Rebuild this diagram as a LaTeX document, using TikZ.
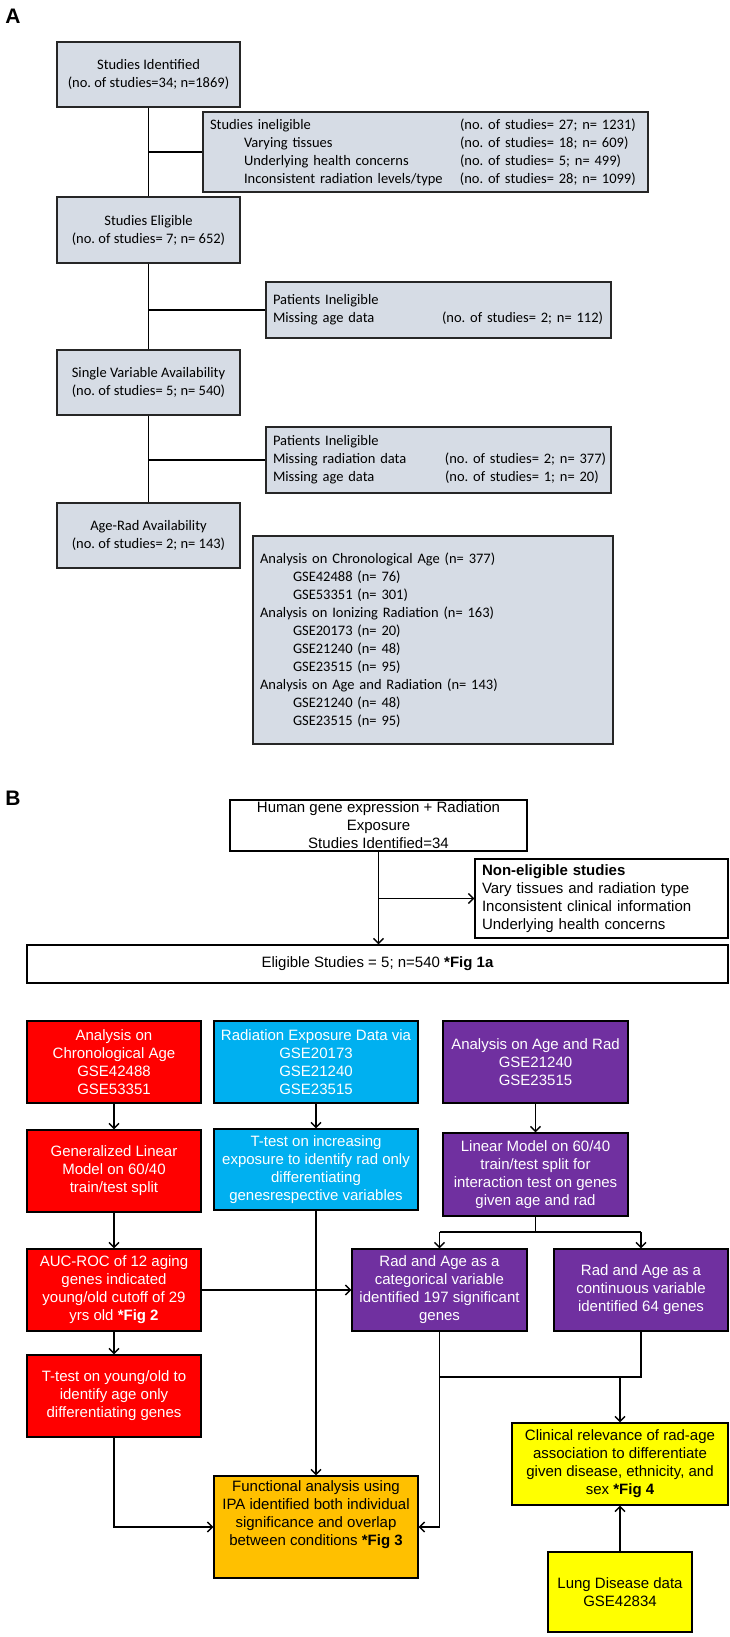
\documentclass[tikz,border=0pt]{standalone}
\usepackage{fontspec}
\setmainfont{Liberation Sans}
\newfontfamily\calib{Carlito}
\usetikzlibrary{arrows.meta}
\definecolor{agray}{RGB}{214,220,229}
\definecolor{bred}{RGB}{255,0,0}
\definecolor{bcyan}{RGB}{0,176,240}
\definecolor{bpurple}{RGB}{112,48,160}
\definecolor{borange}{RGB}{255,192,0}
\definecolor{byellow}{RGB}{255,255,0}
\frenchspacing
\begin{document}
\begin{tikzpicture}[x=1pt,y=-1pt,
  abox/.style={draw=black!85, line width=1.6pt, fill=agray, inner sep=0pt, font=\calib\fontsize{14.5}{18}\selectfont, align=center},
  aleft/.style={abox, align=left, inner xsep=7pt},
  bbox/.style={draw=black, line width=1.4pt, inner sep=0pt, font=\fontsize{15}{18}\selectfont, align=center},
  bleft/.style={bbox, align=left, inner xsep=7pt},
  wtext/.style={text=white},
  conn/.style={line width=1.3pt},
  arr/.style={conn, -{Straight Barb[length=5pt,width=10pt]}},
  panel/.style={font=\fontsize{21}{21}\selectfont\bfseries}
]
\fill[white] (0,0) rectangle (729,1637);
\useasboundingbox (0,0) rectangle (729,1637);

% ---------------- Panel A ----------------
\node[panel] (lA) at (13,16) {A};

\node[abox, minimum width=183pt, minimum height=65pt] (sid) at (148.5,74.5)
  {Studies Identified\\(no. of studies=34; n=1869)};
\node[aleft, text width=431pt, minimum height=80pt] (inel) at (425.5,152)
  {\mbox{\makebox[250pt][l]{Studies ineligible}(no. of studies= 27; n= 1231)}\\
   \mbox{\hspace*{34pt}\makebox[216pt][l]{Varying tissues}(no. of studies= 18; n= 609)}\\
   \mbox{\hspace*{34pt}\makebox[216pt][l]{Underlying health concerns}(no. of studies= 5; n= 499)}\\
   \mbox{\hspace*{34pt}\makebox[216pt][l]{Inconsistent radiation levels/type}(no. of studies= 28; n= 1099)}};
\node[abox, minimum width=183pt, minimum height=66pt] (seli) at (148.5,230)
  {Studies Eligible\\(no. of studies= 7; n= 652)};
\node[aleft, text width=331pt, minimum height=56pt] (pi1) at (438.5,310)
  {\mbox{Patients Ineligible}\\
   \mbox{\makebox[169pt][l]{Missing age data}(no. of studies= 2; n= 112)}};
\node[abox, minimum width=183pt, minimum height=65pt] (sva) at (148.5,382.5)
  {Single Variable Availability\\(no. of studies= 5; n= 540)};
\node[aleft, text width=331pt, minimum height=66pt] (pi2) at (438.5,460)
  {\mbox{Patients Ineligible}\\
   \mbox{\makebox[172pt][l]{Missing radiation data}(no. of studies= 2; n= 377)}\\
   \mbox{\makebox[172pt][l]{Missing age data}(no. of studies= 1; n= 20)}};
\node[abox, minimum width=183pt, minimum height=65pt] (ara) at (148.5,535.5)
  {Age-Rad Availability\\(no. of studies= 2; n= 143)};
\node[aleft, text width=346pt, minimum height=208pt] (big) at (433,640)
  {\mbox{Analysis on Chronological Age (n= 377)}\\
   \mbox{\hspace*{33pt}GSE42488 (n= 76)}\\
   \mbox{\hspace*{33pt}GSE53351 (n= 301)}\\
   \mbox{Analysis on Ionizing Radiation (n= 163)}\\
   \mbox{\hspace*{33pt}GSE20173 (n= 20)}\\
   \mbox{\hspace*{33pt}GSE21240 (n= 48)}\\
   \mbox{\hspace*{33pt}GSE23515 (n= 95)}\\
   \mbox{Analysis on Age and Radiation (n= 143)}\\
   \mbox{\hspace*{33pt}GSE21240 (n= 48)}\\
   \mbox{\hspace*{33pt}GSE23515 (n= 95)}};

\draw[conn] (sid.south) -- (seli.north);
\draw[conn] (seli.south) -- (sva.north);
\draw[conn] (sva.south) -- (ara.north);
\draw[conn] (sid.south |- inel.west) -- (inel.west);
\draw[conn] (seli.south |- pi1.west) -- (pi1.west);
\draw[conn] (sva.south |- pi2.west) -- (pi2.west);

% ---------------- Panel B ----------------
\node[panel] (lB) at (13,798) {B};

\node[bbox, minimum width=297pt, minimum height=51pt] (hum) at (378.5,825.5)
  {Human gene expression + Radiation\\Exposure\\Studies Identified=34};
\node[bleft, text width=239pt, minimum height=79pt] (nel) at (601.5,898.5)
  {\textbf{Non-eligible studies}\\Vary tissues and radiation type\\Inconsistent clinical information\\Underlying health concerns};
\node[bbox, minimum width=701pt, minimum height=38pt] (eli) at (377.5,964)
  {Eligible Studies = 5; n=540 \textbf{*Fig 1a}};

\draw[arr] (hum.south) -- (hum.south |- eli.north);
\draw[arr] (hum.south |- nel.west) -- (nel.west);

\node[bbox, wtext, fill=bred, minimum width=174pt, minimum height=82pt] (r1) at (114,1062)
  {Analysis on\\Chronological Age\\GSE42488\\GSE53351};
\node[bbox, wtext, fill=bcyan, minimum width=204pt, minimum height=82pt] (c1) at (316,1062)
  {Radiation Exposure Data via\\GSE20173\\GSE21240\\GSE23515};
\node[bbox, wtext, fill=bpurple, minimum width=185pt, minimum height=82pt] (p1) at (535.5,1062)
  {Analysis on Age and Rad\\GSE21240\\GSE23515};

\node[bbox, wtext, fill=bred, minimum width=174pt, minimum height=82pt] (r2) at (114,1171)
  {Generalized Linear\\Model on 60/40\\train/test split};
\node[bbox, wtext, fill=bcyan, minimum width=204pt, minimum height=81pt] (c2) at (316,1169.5)
  {T-test on increasing\\exposure to identify rad only\\differentiating\\genesrespective variables};
\node[bbox, wtext, fill=bpurple, minimum width=185pt, minimum height=83pt] (p2) at (535.5,1174.5)
  {Linear Model on 60/40\\train/test split for\\interaction test on genes\\given age and rad};

\node[bbox, wtext, fill=bred, minimum width=174pt, minimum height=82pt] (r3) at (114,1290)
  {AUC-ROC of 12 aging\\genes indicated\\young/old cutoff of 29\\yrs old \textbf{*Fig 2}};
\node[bbox, wtext, fill=bpurple, minimum width=175pt, minimum height=82pt] (p3) at (439.5,1290)
  {Rad and Age as a\\categorical variable\\identified 197 significant\\genes};
\node[bbox, wtext, fill=bpurple, minimum width=174pt, minimum height=82pt] (p4) at (641,1290)
  {Rad and Age as a\\continuous variable\\identified 64 genes};

\node[bbox, wtext, fill=bred, minimum width=174pt, minimum height=82pt] (r4) at (114,1396)
  {T-test on young/old to\\identify age only\\differentiating genes};
\node[bbox, fill=byellow, minimum width=216pt, minimum height=82pt] (y1) at (620,1464)
  {Clinical relevance of rad-age\\association to differentiate\\given disease, ethnicity, and\\sex \textbf{*Fig 4}};
\node[bbox, fill=borange, minimum width=204pt, minimum height=102pt] (fn) at (316,1527)
  {Functional analysis using\\IPA identified both individual\\significance and overlap\\between conditions \textbf{*Fig 3}\\[10pt]};
\node[bbox, fill=byellow, minimum width=144pt, minimum height=80pt] (lung) at (620,1592)
  {Lung Disease data\\GSE42834};

\draw[arr] (r1.south) -- (r2.north);
\draw[arr] (c1.south) -- (c2.north);
\draw[arr] (p1.south) -- (p2.north);
\draw[arr] (r2.south) -- (r3.north);
\draw[arr] (r3.south) -- (r4.north);
\draw[arr] (r3.east) -- (p3.west);
\draw[arr] (c2.south) -- (fn.north);

\coordinate (pj) at (535.5,1232);
\draw[conn] (p2.south) -- (pj);
\draw[conn] (pj -| p3.north) -- (pj -| p4.north);
\draw[arr] (pj -| p3.north) -- (p3.north);
\draw[arr] (pj -| p4.north) -- (p4.north);

\draw[arr] (r4.south) |- (fn.west);
\draw[arr] (p3.south) |- (fn.east);

\coordinate (qj) at (641,1377);
\draw[conn] (p4.south) -- (qj) -- (qj -| p3.south);
\draw[arr] (qj -| y1.north) -- (y1.north);
\draw[arr] (lung.north) -- (y1.south);
\end{tikzpicture}
\end{document}
